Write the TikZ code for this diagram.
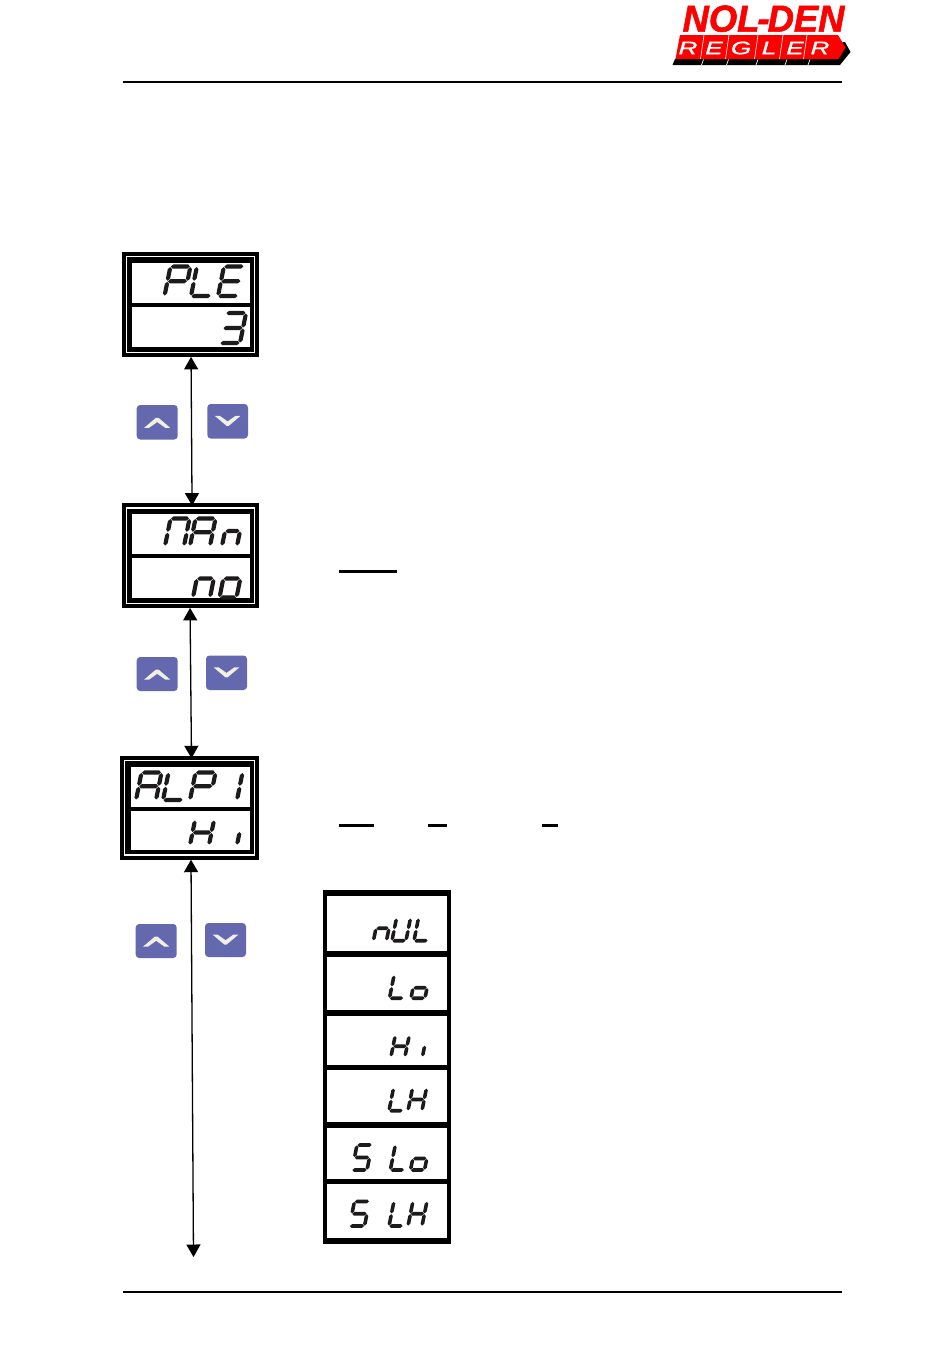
\documentclass[tikz,border=0pt]{standalone}
\usepackage{fontspec}
\usepackage{graphicx}
\usetikzlibrary{arrows.meta}
\newfontfamily\lsans{Liberation Sans}
\newfontfamily\logobold[FakeBold=1.6]{Liberation Sans Bold Italic}
\newfontfamily\logoband[FakeBold=.8]{Liberation Sans Italic}
\definecolor{btnblue}{HTML}{6468AE}
\definecolor{chevcream}{HTML}{F0EFE2}
\definecolor{inkblack}{HTML}{1C1A1B}
\definecolor{logored}{HTML}{FF0000}
\def\segT{4.2}
\def\segP{0.5}
% horizontal and vertical tapered segments; heights count upward from the baseline
\newcommand\hs[3]{\fill[inkblack] ({#1},{-(#3)}) -- ({#1+\segT/2},{-(#3)-\segT/2}) -- ({#2-\segT/2},{-(#3)-\segT/2}) -- ({#2},{-(#3)}) -- ({#2-\segT/2},{-(#3)+\segT/2}) -- ({#1+\segT/2},{-(#3)+\segT/2}) -- cycle;}
\newcommand\vs[3]{\fill[inkblack] ({#1},{-(#2)}) -- ({#1+\segT/2},{-(#2)-\segT/2}) -- ({#1+\segT/2},{-(#3)+\segT/2}) -- ({#1},{-(#3)}) -- ({#1-\segT/2},{-(#3)+\segT/2}) -- ({#1-\segT/2},{-(#2)-\segT/2}) -- cycle;}
\newcommand\sgsega{\hs{\segP}{\gW-\segP}{\gH}}
\newcommand\sgsegd{\hs{\segP}{\gW-\segP}{0}}
\newcommand\sgsegg{\hs{\segP}{\gW-\segP}{\gM*\gH}}
\newcommand\sgsegf{\vs{0}{\gM*\gH+\segP}{\gH-\segP}}
\newcommand\sgsege{\vs{0}{\segP}{\gM*\gH-\segP}}
\newcommand\sgsegb{\vs{\gW}{\gM*\gH+\segP}{\gH-\segP}}
\newcommand\sgsegc{\vs{\gW}{\segP}{\gM*\gH-\segP}}
\newcommand\sgsegi{\vs{\gW}{\segP}{0.52*\gH}}
% glyph: x, baseline y, width, height, position of the middle bar, segments
\newcommand\dg[6]{\begin{scope}[shift={(#1,#2)},xslant=0.2]
 \def\gW{#3}\def\gH{#4}\def\gM{#5}
 \foreach \sgname in {#6}{\csname sgseg\sgname\endcsname}
\end{scope}}
% readable text of a display
\newcommand\rdtext[4]{\node[seglabel,font=\lsans\itshape\fontsize{#4}{#4}\selectfont] (#1) at (#2) {#3};}
% framed display
\newcommand\dispframe[9]{%
 \node[framebox,minimum width={#4-#2},minimum height={#5-#3}] (#1) at ({(#2+#4)/2},{(#3+#5)/2}) {};
 \fill[white] ({#2+#6},{#3+4}) rectangle ({#4-3.2},{#5-3.6});
 \fill[black] ({#2+#6+1.4},{#3+5.3}) rectangle ({#4-4.4},{#5-5.1});
 \fill[white] (#7,{#3+11}) rectangle ({#4-9},{#5-9.4});
 \fill[black] (#7,#8) rectangle ({#4-9},#9);
}
\newcommand\btn[6]{%
 \node[btnbox,minimum width={#4-#2},minimum height={#5-#3}] (#1) at ({(#2+#4)/2},{(#3+#5)/2}) {};
 \fill[chevcream,shift={(#1.center)},yscale=#6] (-13,5.5) -- (-1.2,-4.5) -- (1.2,-4.5) -- (13,5.5) -- (8,5.5) -- (0,-0.2) -- (-8,5.5) -- cycle;
}
\tikzset{
 seglabel/.style={inner sep=0pt,opacity=0,text opacity=0},
 framebox/.style={fill=black,inner sep=0pt,rectangle},
 btnbox/.style={fill=btnblue,inner sep=0pt,rectangle,rounded corners=3.5pt},
 dblarrow/.style={line width=1.3pt,{Triangle[length=12.5pt,width=14pt]}-{Triangle[length=12.5pt,width=14pt]},shorten <=0pt,shorten >=0pt},
 rule/.style={line width=2pt,black},
 underl/.style={line width=2.2pt,black}
}
\begin{document}
\begin{tikzpicture}[x=1pt,y=-1pt]
\useasboundingbox (0,0) rectangle (950,1352);
\fill[white] (0,0) rectangle (950,1352);
% rules
\coordinate (tl) at (123,82); \coordinate (tr) at (842,82);
\coordinate (bl) at (123,1292); \coordinate (br) at (842,1292);
\draw[rule] (tl) -- (tr);
\draw[rule] (bl) -- (br);
% logo
\fill[black] (675,59) -- (672.5,65) -- (840,65) -- (850.5,52) -- (845,42) -- cycle;
\foreach \gx in {703.5,728.5,758,787,810}{\draw[white,line width=.7pt] (\gx,59.5) -- (\gx-2,65);}
\fill[logored] (680,35) -- (838,35) -- (845.5,47.5) -- (838.5,59) -- (675.5,59) -- cycle;
\foreach \gx in {704,729,758,783,807}{\draw[white,line width=.6pt] (\gx,35) -- (\gx-3.5,59);}
\node[text=logored,inner sep=0pt,font=\logobold\fontsize{37.5}{37.5}\selectfont] (logotop) at (763.5,18.7) {\scalebox{.97}[1]{NOL\kern-2pt-\kern-2pt DEN}};
\foreach \lname/\lx/\ltxt in {la/688/R,lb/714/E,lc/741/G,ld/769/L,le/795/E,lf/820/R}{
 \node[text=white,inner sep=0pt,font=\logoband\fontsize{18}{18}\selectfont] (\lname) at (\lx,48) {\scalebox{1.45}[1]{\ltxt}};
}
% displays
\dispframe{d1}{122}{252}{258.5}{356.7}{4}{132}{303.3}{307.3}
\dispframe{d2}{122}{503.3}{258.5}{607.7}{4}{132}{553.6}{558}
\dispframe{d3}{119.5}{756}{258.5}{859.5}{4}{130.7}{806.7}{811}
% PLE / 3
\rdtext{t1}{205,281}{PLE}{30}
\dg{164.5}{296}{20}{29.5}{.5}{a,b,f,e,g}
\dg{191}{296}{20}{29.5}{.5}{f,e,d}
\dg{218}{296}{20}{29.5}{.5}{a,f,e,g,d}
\rdtext{t2}{232,328}{3}{30}
\dg{220}{343}{20}{30}{.5}{a,b,c,d,g}
% MAn / no
\rdtext{t3}{205,532}{MAn}{30}
\dg{165}{546}{19}{27.5}{.5}{a,b,c,e,f}
\dg{190}{546}{20}{27.5}{.5}{a,b,c,e,f,g}
\dg{222}{546}{15}{15}{1}{g,c,e}
\rdtext{t4}{215,586}{no}{24}
\dg{193}{597.5}{17}{19}{1}{g,c,e}
\dg{219.5}{597.5}{17}{19}{1}{g,c,e,d}
% ALP1 / Hi
\rdtext{t5}{190,785}{ALP1}{30}
\dg{136}{800}{20}{27.5}{.5}{a,b,c,e,f,g}
\dg{163}{800}{20}{27.5}{.5}{f,e,d}
\dg{190}{800}{20}{27.5}{.5}{a,b,f,e,g}
\dg{217}{800}{20}{27.5}{.5}{b,c}
\rdtext{t6}{215,832}{Hi}{24}
\dg{190}{845}{19}{25}{.5}{b,c,e,f,g}
\dg{218}{845}{19}{25}{.5}{i}
% list box
\node[framebox,minimum width=128.3pt,minimum height=354.3pt] (lst) at (386.85,1067.15) {};
\foreach \ya/\yb in {896/951,956.7/1010,1015.7/1065,1070/1122.3,1127.7/1179.3,1184.3/1238.3}{\fill[white] (327,\ya) rectangle (446.7,\yb);}
\def\segT{3.6}
\def\segP{0.4}
\rdtext{t7}{400,930}{nUL}{22}
\dg{373.5}{940.7}{13}{12.5}{1}{g,c,e}
\dg{392}{940.7}{14}{22.5}{.5}{b,c,d,e,f}
\dg{414}{940.7}{14}{22.5}{.5}{f,e,d}
\rdtext{t8}{405,987}{Lo}{22}
\dg{389.5}{998.2}{14}{23}{.5}{f,e,d}
\dg{411}{998.2}{14}{10.5}{1}{g,c,e,d}
\rdtext{t9}{405,1046}{Hi}{22}
\dg{391}{1056.7}{14}{21}{.5}{b,c,e,f,g}
\dg{408.5}{1056.7}{14}{21}{.5}{i}
\rdtext{t10}{405,1100}{LH}{22}
\dg{389}{1110.7}{14}{22.5}{.5}{f,e,d}
\dg{408}{1110.7}{14}{22.5}{.5}{b,c,e,f,g}
\rdtext{t11}{380,1158}{SLo}{22}
\dg{352}{1170}{15}{25}{.5}{a,f,g,c,d}
\dg{390.3}{1170}{14}{25}{.5}{f,e,d}
\dg{410.5}{1170}{14}{11.5}{1}{g,c,e,d}
\rdtext{t12}{380,1214}{SLH}{22}
\dg{349.5}{1226}{15}{24.5}{.5}{a,f,g,c,d}
\dg{389}{1226}{14}{24.5}{.5}{f,e,d}
\dg{408}{1226}{14}{24.5}{.5}{b,c,e,f,g}
% keys
\btn{u1}{136.7}{405}{177.7}{439.5}{1}
\btn{v1}{207.3}{404}{248}{438.5}{-1}
\btn{u2}{136.7}{657}{177.7}{691}{1}
\btn{v2}{206}{655.5}{247}{690}{-1}
\btn{u3}{135.7}{924}{176.7}{958}{1}
\btn{v3}{205}{923}{246}{957}{-1}
% arrows
\coordinate (endarrow) at (193.5,1257);
\draw[dblarrow] ([xshift=.8pt]d1.south) -- ([xshift=1.8pt,yshift=-2.5pt]d2.north);
\draw[dblarrow] ([xshift=-.2pt]d2.south) -- ([xshift=2.5pt,yshift=-2.5pt]d3.north);
\draw[dblarrow] ([xshift=2pt]d3.south) -- (endarrow);
% leftover underlines
\coordinate (ua) at (339,571.5); \coordinate (ub) at (397,571.5);
\coordinate (uc) at (339,825.5); \coordinate (ud) at (373.5,825.5);
\coordinate (ue) at (428,825.5); \coordinate (uf) at (447,825.5);
\coordinate (ug) at (542,825.5); \coordinate (uh) at (558,825.5);
\draw[underl] (ua) -- (ub);
\draw[underl] (uc) -- (ud);
\draw[underl] (ue) -- (uf);
\draw[underl] (ug) -- (uh);
\end{tikzpicture}
\end{document}
